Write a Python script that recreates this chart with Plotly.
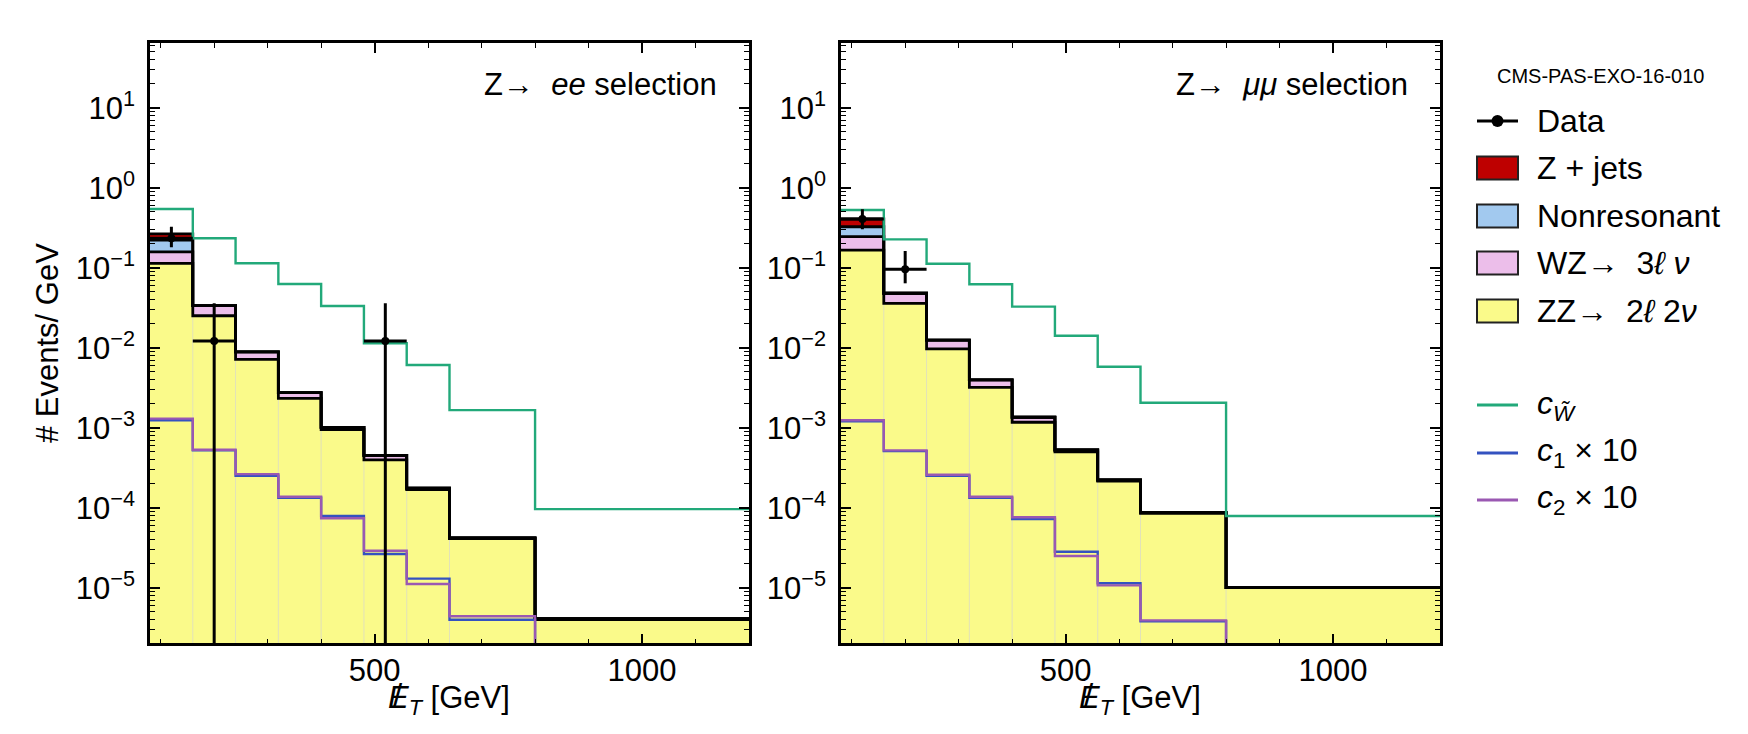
import plotly.graph_objects as go

# ---------------- data ----------------
edges = [80, 160, 240, 320, 400, 480, 560, 640, 800, 1200]

# Z -> ee selection (events / GeV)
ee_zz = [0.1135, 0.0251, 0.00716, 0.00233, 0.00095, 0.000395, 0.000168, 4.1e-5, 4.0e-6]
ee_wz = [0.0445, 0.0084, 0.0017, 0.00041, 0.00006, 0.000055, 7e-6, 8e-7, 1e-7]
ee_nr = [0.064, 0, 0, 0, 0, 0, 0, 0, 0]
ee_zj = [0.042, 0, 0, 0, 0, 0, 0, 0, 0]
ee_cw = [0.542, 0.233, 0.1135, 0.0625, 0.0332, 0.01135, 0.00608, 0.00166, 9.6e-5]
ee_c1 = [1.24e-3, 5.2e-4, 2.51e-4, 1.33e-4, 7.87e-5, 2.64e-5, 1.30e-5, 3.98e-6, 0]
ee_c2 = [1.30e-3, 5.3e-4, 2.63e-4, 1.37e-4, 7.37e-5, 2.90e-5, 1.11e-5, 4.39e-6, 0]
ee_data_x = [120, 200, 520]
ee_data_y = [0.233, 0.0121, 0.0121]
ee_data_up = [0.093, 0.0238, 0.0238]
ee_data_dn = [0.053, 0.0121, 0.0121]

# Z -> mumu selection
mm_zz = [0.166, 0.0359, 0.00964, 0.0032, 0.00117, 0.0005, 0.000215, 8.5e-5, 1.0e-5]
mm_wz = [0.078, 0.012, 0.00283, 0.00075, 0.00018, 2.6e-5, 7e-6, 2.6e-6, 0]
mm_nr = [0.081, 0, 0, 0, 0, 0, 0, 0, 0]
mm_zj = [0.081, 0, 0, 0, 0, 0, 0, 0, 0]
mm_cw = [0.526, 0.226, 0.112, 0.062, 0.0326, 0.0141, 0.00579, 0.00205, 7.87e-5]
mm_c1 = [1.20e-3, 5.1e-4, 2.50e-4, 1.33e-4, 7.23e-5, 2.82e-5, 1.135e-5, 3.8e-6, 0]
mm_c2 = [1.24e-3, 5.2e-4, 2.58e-4, 1.37e-4, 7.59e-5, 2.49e-5, 1.07e-5, 3.9e-6, 0]
mm_data_x = [120, 200]
mm_data_y = [0.406, 0.0955]
mm_data_up = [0.131, 0.0665]
mm_data_dn = [0.104, 0.0317]

panel_titles = ["Z\u2192 \u00a0<i>ee</i> selection", "Z\u2192 \u00a0<i>\u03bc\u03bc</i> selection"]
legend_labels = ["Data", "Z + jets", "Nonresonant",
                 "WZ\u2192 \u00a03<i>\u2113 \u03bd</i>", "ZZ\u2192 \u00a02<i>\u2113</i> 2<i>\u03bd</i>",
                 "<i>c</i><sub><i>W\u0303</i></sub>", "<i>c</i><sub>1</sub> \u00d7 10",
                 "<i>c</i><sub>2</sub> \u00d7 10"]
x_title = "<i>E</i><sub><i>T</i></sub> [GeV]"
y_title = "# Events/ GeV"
cms_label = "CMS-PAS-EXO-16-010"
ytick_vals = [1e-5, 1e-4, 1e-3, 1e-2, 1e-1, 1e0, 1e1]
ytick_text = ["10<sup>\u22125</sup>", "10<sup>\u22124</sup>", "10<sup>\u22123</sup>",
              "10<sup>\u22122</sup>", "10<sup>\u22121</sup>", "10<sup>0</sup>", "10<sup>1</sup>"]
xtick_vals = [500, 1000]

# ---------------- style ----------------
W, H = 1748, 734
FONT = "Liberation Sans, Arial, Helvetica, sans-serif"
C_ZZ = "#FAFA8A"
C_WZ = "#ECBEEA"
C_NR = "#A2C9EF"
C_ZJ = "#BE0000"
C_CW = "#22A97A"
C_C1 = "#3452C0"
C_C2 = "#9A58B2"
FLOOR = 1e-8

def px(x):
    return x / W

def py(y):
    return 1 - y / H

def step(vals):
    v = [max(a, FLOOR) for a in vals]
    return v + [v[-1]]

def cumsum(*arrs):
    out = []
    run = [0.0] * len(arrs[0])
    for a in arrs:
        run = [r + b for r, b in zip(run, a)]
        out.append(run)
    return out

fig = go.Figure()

panels = [
    dict(zz=ee_zz, wz=ee_wz, nr=ee_nr, zj=ee_zj, cw=ee_cw, c1=ee_c1, c2=ee_c2,
         dx=ee_data_x, dy=ee_data_y, du=ee_data_up, dd=ee_data_dn, xa="x", ya="y"),
    dict(zz=mm_zz, wz=mm_wz, nr=mm_nr, zj=mm_zj, cw=mm_cw, c1=mm_c1, c2=mm_c2,
         dx=mm_data_x, dy=mm_data_y, du=mm_data_up, dd=mm_data_dn, xa="x2", ya="y2"),
]

for p in panels:
    xa, ya = p["xa"], p["ya"]
    stacks = cumsum(p["zz"], p["wz"], p["nr"], p["zj"])
    # baseline
    fig.add_trace(go.Scatter(x=edges, y=[FLOOR] * len(edges), mode="lines",
                             line=dict(width=0, shape="hv"), xaxis=xa, yaxis=ya,
                             showlegend=False, hoverinfo="skip"))
    for s, col in zip(stacks, [C_ZZ, C_WZ, C_NR, C_ZJ]):
        fig.add_trace(go.Scatter(x=edges, y=step(s), mode="lines", fill="tonexty",
                                 fillcolor=col, line=dict(width=0, shape="hv"),
                                 xaxis=xa, yaxis=ya, showlegend=False, hoverinfo="skip"))
    # faint bin separators inside the ZZ fill
    sx, sy = [], []
    for i in range(1, len(edges) - 1):
        top = min(p["zz"][i - 1], p["zz"][i])
        sx += [edges[i], edges[i], None]
        sy += [FLOOR, top, None]
    fig.add_trace(go.Scatter(x=sx, y=sy, mode="lines",
                             line=dict(width=1, color="rgba(215,215,205,0.7)"),
                             xaxis=xa, yaxis=ya, showlegend=False, hoverinfo="skip"))
    # black outlines
    for s in stacks:
        fig.add_trace(go.Scatter(x=edges, y=step(s), mode="lines",
                                 line=dict(width=2.8, color="black", shape="hv"),
                                 xaxis=xa, yaxis=ya, showlegend=False, hoverinfo="skip"))
    # signal lines
    for key, col in [("cw", C_CW), ("c1", C_C1), ("c2", C_C2)]:
        fig.add_trace(go.Scatter(x=edges, y=step(p[key]), mode="lines",
                                 line=dict(width=2.4, color=col, shape="hv"),
                                 xaxis=xa, yaxis=ya, showlegend=False, hoverinfo="skip"))
    # data
    halfw = []
    for xc in p["dx"]:
        for i in range(len(edges) - 1):
            if edges[i] <= xc < edges[i + 1]:
                halfw.append((edges[i + 1] - edges[i]) / 2)
    dn = [y - max(y - d, 1e-7) for y, d in zip(p["dy"], p["dd"])]
    fig.add_trace(go.Scatter(x=p["dx"], y=p["dy"], mode="markers",
                             marker=dict(size=8, color="black"),
                             error_y=dict(type="data", symmetric=False, array=p["du"],
                                          arrayminus=dn, thickness=3, width=0, color="black"),
                             error_x=dict(type="data", array=halfw, thickness=3, width=0,
                                          color="black"),
                             xaxis=xa, yaxis=ya, showlegend=False, hoverinfo="skip"))

y_minor = [k * 10.0 ** e for e in range(-6, 2) for k in range(2, 10)]

xcommon = dict(range=[edges[0], edges[-1]], tickvals=xtick_vals, ticks="inside", ticklen=10,
               tickwidth=1.6, tickcolor="black", showline=True, linewidth=2.6, linecolor="black",
               mirror="allticks", showgrid=False, zeroline=False,
               tickfont=dict(size=31, color="black", family=FONT), ticklabelstandoff=-2,
               minor=dict(dtick=100, tick0=0, ticks="inside", ticklen=5, tickwidth=1.3,
                          tickcolor="black", showgrid=False))
ycommon = dict(type="log", range=[-5.695, 1.805], tickvals=ytick_vals, ticktext=ytick_text,
               ticks="inside", ticklen=10, tickwidth=1.6, tickcolor="black", showline=True,
               linewidth=2.6, linecolor="black", mirror="allticks", showgrid=False,
               zeroline=False, tickfont=dict(size=31, color="black", family=FONT),
               ticklabelstandoff=6,
               minor=dict(tickvals=y_minor, ticks="inside", ticklen=5, tickwidth=1.3,
                          tickcolor="black", showgrid=False))

ydom = [py(643.3), py(43.3)]
fig.update_layout(
    width=W, height=H, margin=dict(l=0, r=0, t=0, b=0),
    paper_bgcolor="white", plot_bgcolor="white",
    font=dict(family=FONT, color="black", size=31),
    showlegend=False,
    xaxis=dict(domain=[px(150), px(749)], anchor="y", **xcommon),
    yaxis=dict(domain=ydom, anchor="x", **ycommon),
    xaxis2=dict(domain=[px(841), px(1440)], anchor="y2", **xcommon),
    yaxis2=dict(domain=ydom, anchor="x2", **ycommon),
)

ann = []
shapes = []
# panel titles
ann.append(dict(x=px(719), y=py(85), xref="paper", yref="paper", text=panel_titles[0],
                showarrow=False, xanchor="right", yanchor="middle", font=dict(size=31)))
ann.append(dict(x=px(1410), y=py(85), xref="paper", yref="paper", text=panel_titles[1],
                showarrow=False, xanchor="right", yanchor="middle", font=dict(size=31)))
# x axis titles (E with slash overlay)
for xl in [386, 1077]:
    ann.append(dict(x=px(xl), y=py(700), xref="paper", yref="paper", text=x_title,
                    showarrow=False, xanchor="left", yanchor="middle", font=dict(size=31)))
    ann.append(dict(x=px(xl + 12), y=py(695), xref="paper", yref="paper", text="/",
                    showarrow=False, xanchor="center", yanchor="middle", font=dict(size=33)))
ann.append(dict(x=px(47), y=py(343), xref="paper", yref="paper", text=y_title,
                showarrow=False, textangle=-90, xanchor="center", yanchor="middle",
                font=dict(size=31)))
# CMS label
ann.append(dict(x=px(1600), y=py(76), xref="paper", yref="paper", text=cms_label,
                showarrow=False, xanchor="center", yanchor="middle", font=dict(size=20)))

# manual legend
rows = [121, 168, 216, 263, 311, 405, 453, 500]
kinds = ["data", ("patch", C_ZJ), ("patch", C_NR), ("patch", C_WZ), ("patch", C_ZZ),
         ("line", C_CW), ("line", C_C1), ("line", C_C2)]
x0, x1 = 1477, 1518
for yc, kind, lab in zip(rows, kinds, legend_labels):
    if kind == "data":
        shapes.append(dict(type="line", xref="paper", yref="paper", x0=px(x0), x1=px(x1),
                           y0=py(yc), y1=py(yc), line=dict(color="black", width=3)))
        r = 6
        shapes.append(dict(type="circle", xref="paper", yref="paper",
                           x0=px((x0 + x1) / 2 - r), x1=px((x0 + x1) / 2 + r),
                           y0=py(yc - r), y1=py(yc + r), fillcolor="black",
                           line=dict(color="black", width=0)))
    elif kind[0] == "patch":
        shapes.append(dict(type="rect", xref="paper", yref="paper", x0=px(x0), x1=px(x1),
                           y0=py(yc - 11.5), y1=py(yc + 11.5), fillcolor=kind[1],
                           line=dict(color="#222222", width=2)))
    else:
        shapes.append(dict(type="line", xref="paper", yref="paper", x0=px(x0), x1=px(x1),
                           y0=py(yc), y1=py(yc), line=dict(color=kind[1], width=3)))
    ann.append(dict(x=px(1535), y=py(yc), xref="paper", yref="paper", text=lab,
                    showarrow=False, xanchor="left", yanchor="middle", font=dict(size=32)))

fig.update_layout(annotations=ann, shapes=shapes)
fig.write_html("out.html")
